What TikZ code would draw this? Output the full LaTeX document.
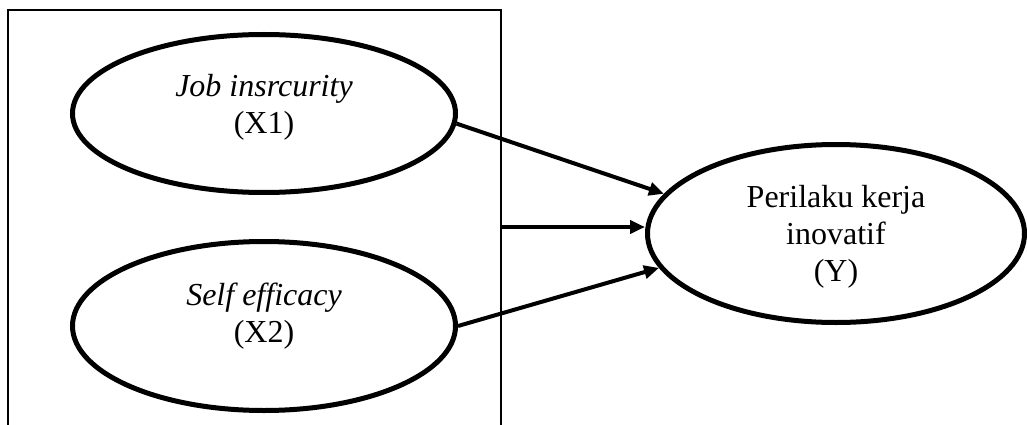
\documentclass[tikz,border=0pt]{standalone}
\usepackage{fontspec}
\setmainfont{Liberation Serif}
\usetikzlibrary{shapes.geometric,arrows.meta}
\tikzset{
  var/.style={draw, ellipse, line width=5pt, inner sep=0pt},
  lbl/.style={align=center, inner sep=0pt, font=\fontsize{32}{37}\selectfont},
  conn/.style={line width=4pt, -{Triangle[length=15pt,width=13pt]}},
  frame/.style={line width=1.5pt}
}
\begin{document}
\begin{tikzpicture}[x=1pt,y=-1pt]
\useasboundingbox (0,0) rectangle (1027,425);
\draw[frame] (8,425) -- (8,10) -- (501,10) -- (501,425);
\node[var, minimum width=383pt, minimum height=158pt] (X1) at (264,113.5) {};
\node[var, minimum width=383pt, minimum height=169pt] (X2) at (264,326) {};
\node[var, minimum width=377pt, minimum height=178pt] (Y) at (836,233.5) {};
\node[lbl] (X1t) at (264,107.5) {\textit{Job insrcurity}\\(X1)};
\node[lbl] (X2t) at (264,316) {\textit{Self efficacy}\\(X2)};
\node[lbl] (Yt) at (836,236.5) {Perilaku kerja\\inovatif\\(Y)};
\coordinate (m) at (501,227);
\draw[conn] (X1.-3) -- (Y.167);
\draw[conn] (m) -- (m -| Y.west);
\draw[conn] (X2.east) -- (Y.-169);
\end{tikzpicture}
\end{document}
